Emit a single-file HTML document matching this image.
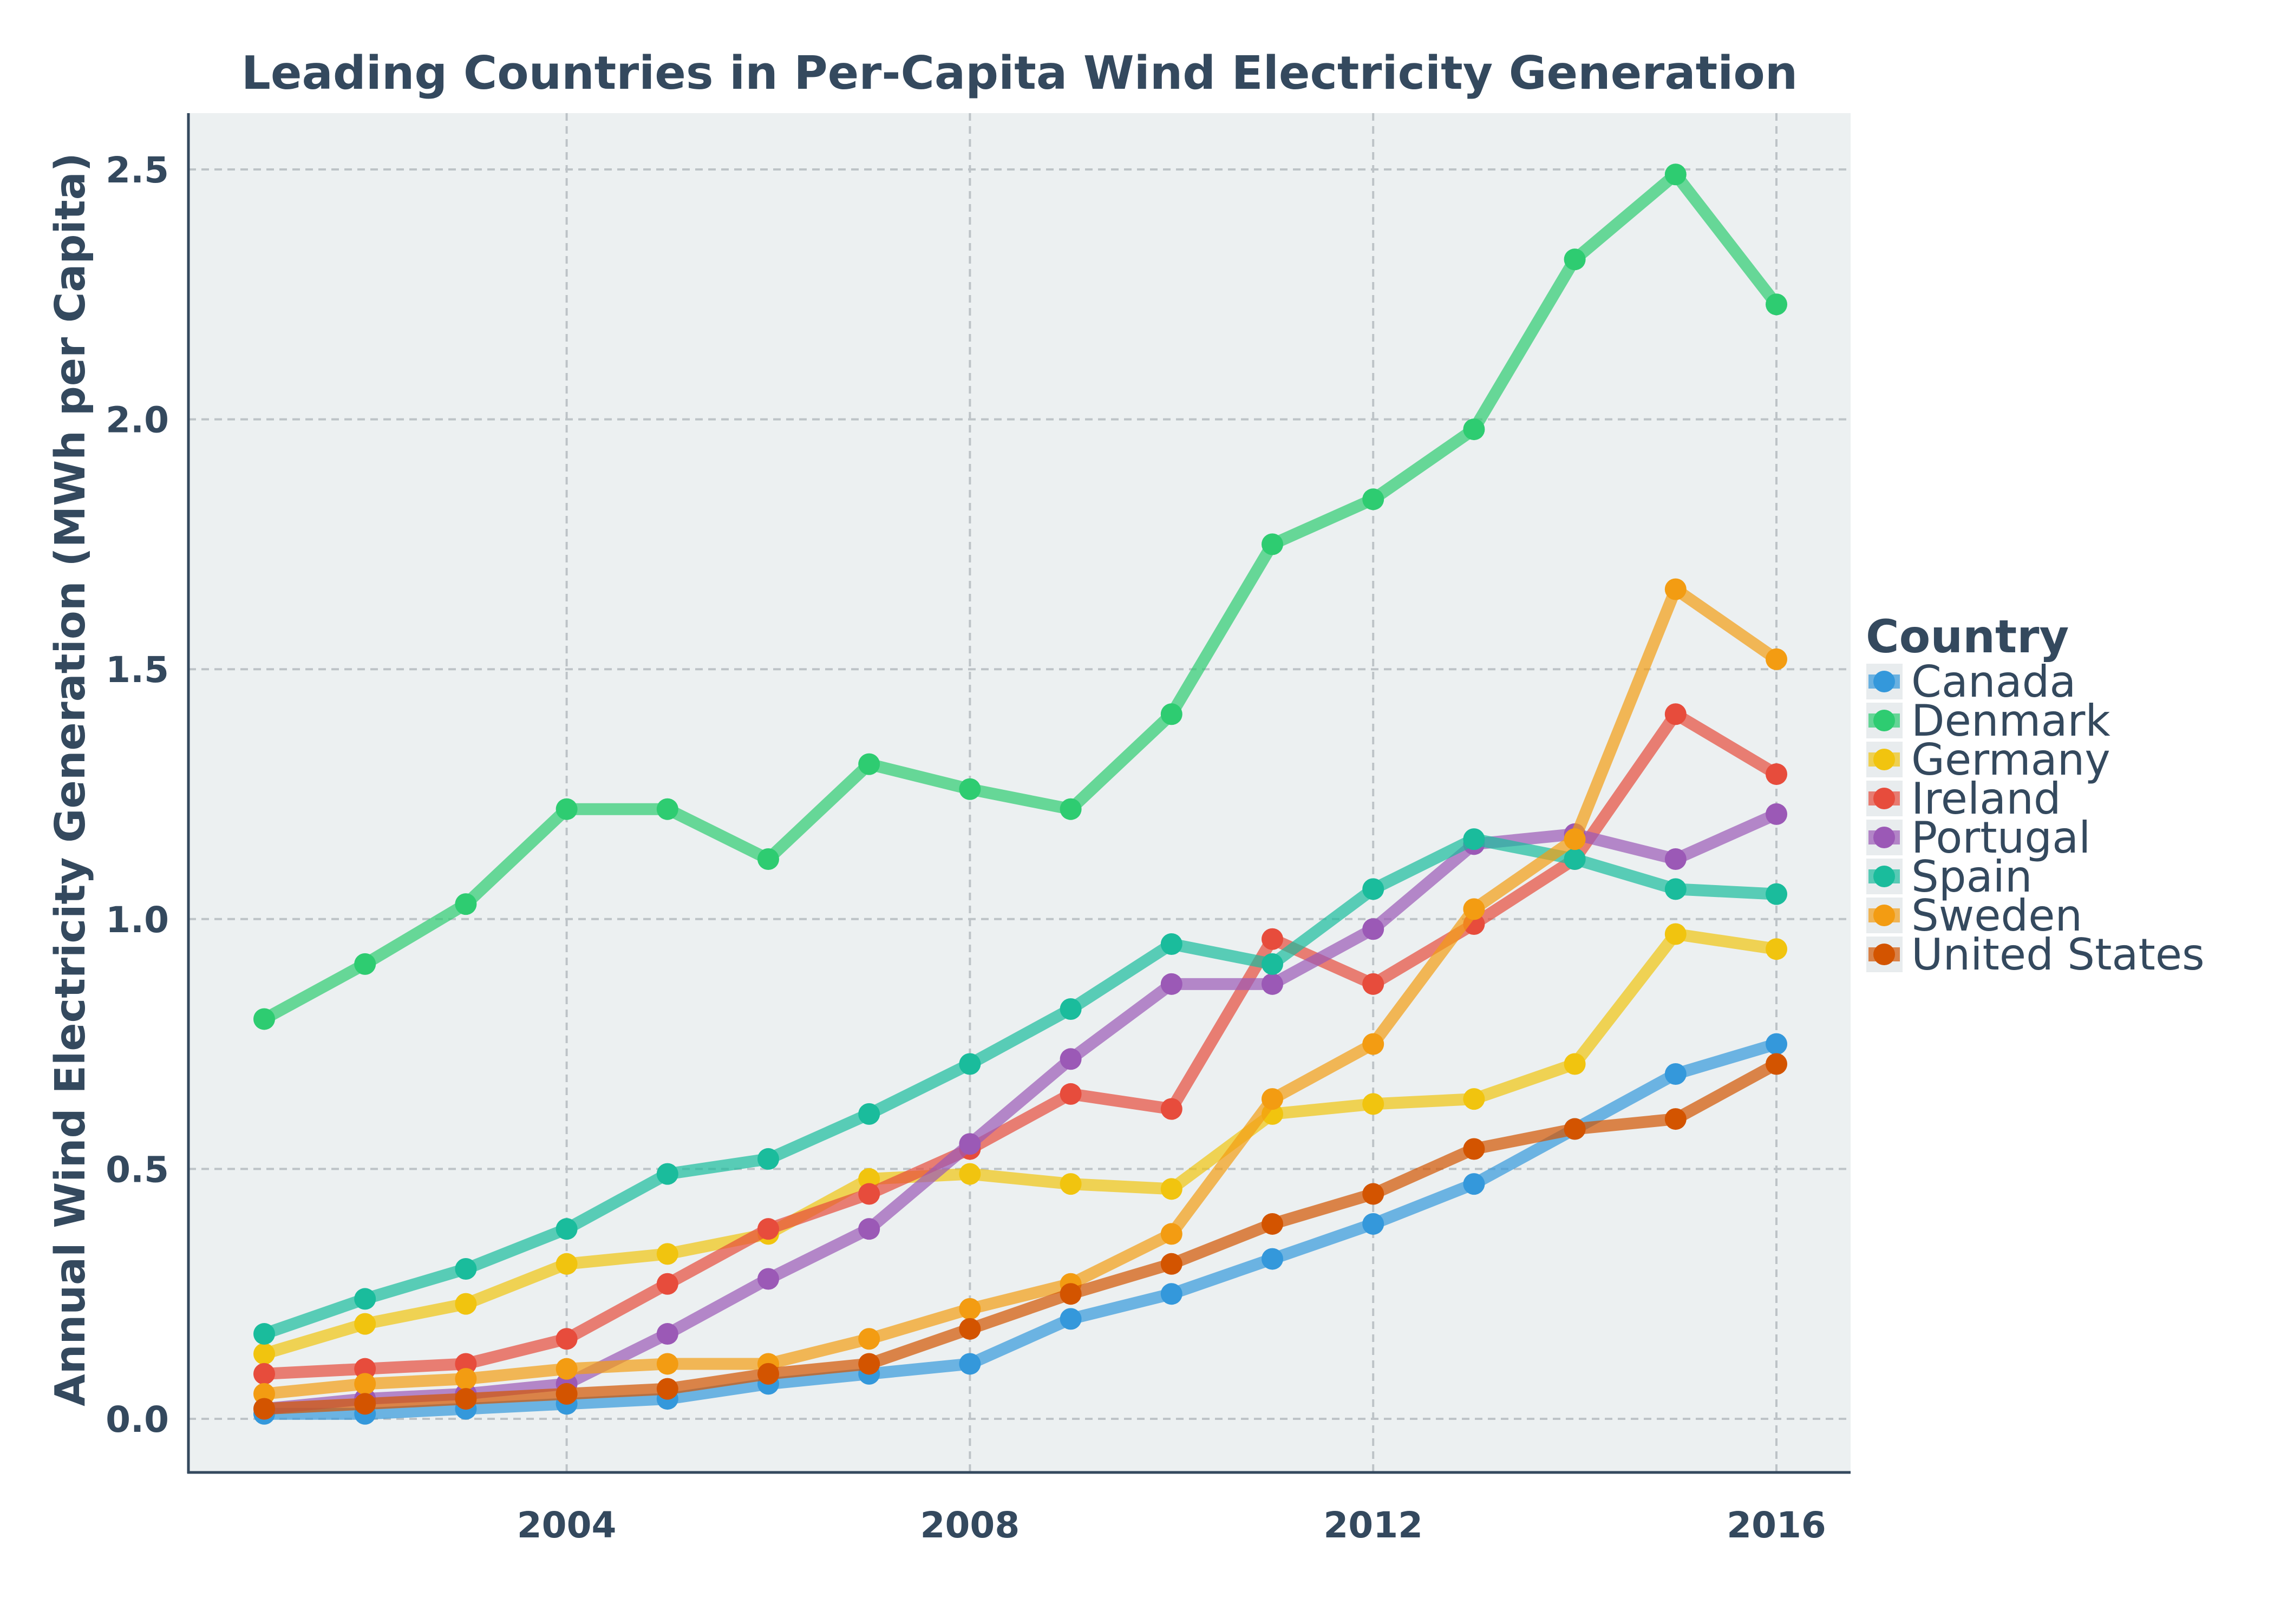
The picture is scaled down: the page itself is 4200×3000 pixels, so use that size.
<!DOCTYPE html>
<html><head><meta charset="utf-8"><style>
html,body{margin:0;padding:0;background:#fff;}
svg{display:block;font-family:"DejaVu Sans","Liberation Sans",sans-serif;}
</style></head><body>
<svg id="chart" width="4200" height="3000" viewBox="0 0 4200 3000" xmlns="http://www.w3.org/2000/svg">
<rect x="348" y="209" width="3070" height="2511" fill="#ecf0f1"/>
<g id="grid"></g>
<g id="series"></g>
<line x1="348" y1="209" x2="348" y2="2722" stroke="#34495e" stroke-width="5"/>
<line x1="346" y1="2720" x2="3418" y2="2720" stroke="#34495e" stroke-width="5"/>
<g id="ticks"></g>
<text x="1883" y="164" text-anchor="middle" font-size="85" font-weight="bold" fill="#34495e">Leading Countries in Per-Capita Wind Electricity Generation</text>
<text transform="translate(156,1440) rotate(-90)" text-anchor="middle" font-size="77" font-weight="bold" fill="#34495e">Annual Wind Electricity Generation (MWh per Capita)</text>
<g id="legend">
<text x="3446" y="1205" font-size="84" font-weight="bold" fill="#34495e">Country</text>
</g>
</svg>
<script>
const years = [2001,2002,2003,2004,2005,2006,2007,2008,2009,2010,2011,2012,2013,2014,2015,2016];
const countries = ["Canada","Denmark","Germany","Ireland","Portugal","Spain","Sweden","United States"];
const colors = ["#3498db","#2ecc71","#f1c40f","#e74c3c","#9b59b6","#1abc9c","#f39c12","#d35400"];
const canada = [0.01,0.01,0.02,0.03,0.04,0.07,0.09,0.11,0.20,0.25,0.32,0.39,0.47,0.58,0.69,0.75];
const denmark = [0.80,0.91,1.03,1.22,1.22,1.12,1.31,1.26,1.22,1.41,1.75,1.84,1.98,2.32,2.49,2.23];
const germany = [0.13,0.19,0.23,0.31,0.33,0.37,0.48,0.49,0.47,0.46,0.61,0.63,0.64,0.71,0.97,0.94];
const ireland = [0.09,0.10,0.11,0.16,0.27,0.38,0.45,0.54,0.65,0.62,0.96,0.87,0.99,1.12,1.41,1.29];
const portugal = [0.02,0.04,0.05,0.07,0.17,0.28,0.38,0.55,0.72,0.87,0.87,0.98,1.15,1.17,1.12,1.21];
const spain = [0.17,0.24,0.30,0.38,0.49,0.52,0.61,0.71,0.82,0.95,0.91,1.06,1.16,1.12,1.06,1.05];
const sweden = [0.05,0.07,0.08,0.10,0.11,0.11,0.16,0.22,0.27,0.37,0.64,0.75,1.02,1.16,1.66,1.52];
const unitedStates = [0.02,0.03,0.04,0.05,0.06,0.09,0.11,0.18,0.25,0.31,0.39,0.45,0.54,0.58,0.60,0.71];
const xTicks = [2004,2008,2012,2016];
const yTicks = [0.0,0.5,1.0,1.5,2.0,2.5];
const yTickLabels = ["0.0","0.5","1.0","1.5","2.0","2.5"];

const seriesValues = [canada,denmark,germany,ireland,portugal,spain,sweden,unitedStates];
const NS = "http://www.w3.org/2000/svg";
function xScale(y){ return 488 + (y - 2001) * 186.2; }
function yScale(v){ return 2621 - v * 923.2; }
function mk(tag, attrs){ const e = document.createElementNS(NS, tag); for (const k in attrs) e.setAttribute(k, attrs[k]); return e; }

const grid = document.getElementById('grid');
const ticks = document.getElementById('ticks');
xTicks.forEach(t => {
  const l = mk('line', {x1:xScale(t), x2:xScale(t), y1:209, y2:2720, stroke:'#bdc3c7', 'stroke-width':4, 'stroke-dasharray':'14,10'});
  
  
  grid.appendChild(l);
  const tx = mk('text', {x:xScale(t), y:2840, 'text-anchor':'middle', 'font-size':66, 'font-weight':'bold', fill:'#34495e'});
  tx.textContent = t;
  
  
  ticks.appendChild(tx);
});
yTicks.forEach((t, i) => {
  const l = mk('line', {x1:348, x2:3418, y1:yScale(t), y2:yScale(t), stroke:'#bdc3c7', 'stroke-width':4, 'stroke-dasharray':'14,10'});
  
  
  grid.appendChild(l);
  const tx = mk('text', {x:312, y:yScale(t) + 24, 'text-anchor':'end', 'font-size':66, 'font-weight':'bold', fill:'#34495e'});
  tx.textContent = yTickLabels[i];
  
  
  ticks.appendChild(tx);
});

const sg = document.getElementById('series');
const legend = document.getElementById('legend');
countries.forEach((c, i) => {
  const vals = seriesValues[i];
  const g = mk('g', {});
  
  
  const pts = vals.map((v, j) => xScale(years[j]) + ',' + yScale(v)).join(' ');
  const pl = mk('polyline', {points:pts, fill:'none', stroke:colors[i], 'stroke-width':22, 'stroke-opacity':0.7, 'stroke-linejoin':'round'});
  
  
  g.appendChild(pl);
  vals.forEach((v, j) => {
    const ci = mk('circle', {cx:xScale(years[j]), cy:yScale(v), r:20, fill:colors[i]});
    
    
    g.appendChild(ci);
  });
  sg.appendChild(g);

  const ly = 1259 + i * 72;
  const le = mk('g', {});
  
  
  le.appendChild(mk('rect', {x:3447, y:ly - 33, width:67, height:66, fill:'#e8ecee'}));
  le.appendChild(mk('rect', {x:3451, y:ly - 13, width:58, height:26, fill:colors[i], 'fill-opacity':0.7}));
  le.appendChild(mk('circle', {cx:3480, cy:ly, r:20, fill:colors[i]}));
  const t = mk('text', {x:3530, y:ly + 28, 'font-size':80, fill:'#34495e'});
  t.textContent = c;
  le.appendChild(t);
  legend.appendChild(le);
});
</script>
</body></html>
